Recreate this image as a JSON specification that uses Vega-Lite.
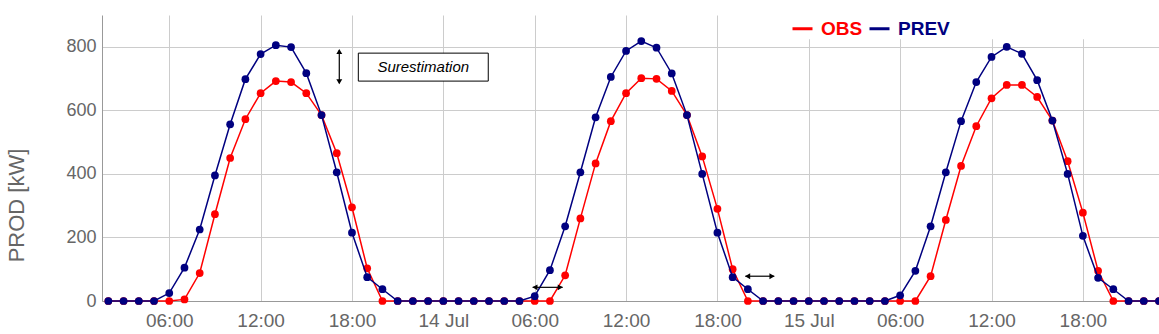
{
  "$schema": "https://vega.github.io/schema/vega-lite/v6.json",
  "autosize": {"type": "none"},
  "padding": {"left": 102, "top": 15, "right": 0, "bottom": 33},
  "width": 1057,
  "height": 286,
  "title": {"text": "Ennuls_6", "fontSize": 26, "fontWeight": "bold", "font": "Liberation Sans", "color": "#000000", "baseline": "alphabetic", "offset": 2, "dx": -47, "dy": 9, "anchor": "middle"},
  "data": {"values": [
    {"t": "2024-07-13T02:00:00", "OBS": 0, "PREV": 0},
    {"t": "2024-07-13T03:00:00", "OBS": 0, "PREV": 0},
    {"t": "2024-07-13T04:00:00", "OBS": 0, "PREV": 0},
    {"t": "2024-07-13T05:00:00", "OBS": 0, "PREV": 0},
    {"t": "2024-07-13T06:00:00", "OBS": 0, "PREV": 25},
    {"t": "2024-07-13T07:00:00", "OBS": 5, "PREV": 105},
    {"t": "2024-07-13T08:00:00", "OBS": 88, "PREV": 225},
    {"t": "2024-07-13T09:00:00", "OBS": 273, "PREV": 395},
    {"t": "2024-07-13T10:00:00", "OBS": 450, "PREV": 556},
    {"t": "2024-07-13T11:00:00", "OBS": 572, "PREV": 698},
    {"t": "2024-07-13T12:00:00", "OBS": 654, "PREV": 777},
    {"t": "2024-07-13T13:00:00", "OBS": 692, "PREV": 805},
    {"t": "2024-07-13T14:00:00", "OBS": 689, "PREV": 799},
    {"t": "2024-07-13T15:00:00", "OBS": 654, "PREV": 717},
    {"t": "2024-07-13T16:00:00", "OBS": 585, "PREV": 585},
    {"t": "2024-07-13T17:00:00", "OBS": 465, "PREV": 405},
    {"t": "2024-07-13T18:00:00", "OBS": 295, "PREV": 215},
    {"t": "2024-07-13T19:00:00", "OBS": 103, "PREV": 75},
    {"t": "2024-07-13T20:00:00", "OBS": 0, "PREV": 37},
    {"t": "2024-07-13T21:00:00", "OBS": 0, "PREV": 0},
    {"t": "2024-07-13T22:00:00", "OBS": 0, "PREV": 0},
    {"t": "2024-07-13T23:00:00", "OBS": 0, "PREV": 0},
    {"t": "2024-07-14T00:00:00", "OBS": 0, "PREV": 0},
    {"t": "2024-07-14T01:00:00", "OBS": 0, "PREV": 0},
    {"t": "2024-07-14T02:00:00", "OBS": 0, "PREV": 0},
    {"t": "2024-07-14T03:00:00", "OBS": 0, "PREV": 0},
    {"t": "2024-07-14T04:00:00", "OBS": 0, "PREV": 0},
    {"t": "2024-07-14T05:00:00", "OBS": 0, "PREV": 0},
    {"t": "2024-07-14T06:00:00", "OBS": 0, "PREV": 15},
    {"t": "2024-07-14T07:00:00", "OBS": 0, "PREV": 97},
    {"t": "2024-07-14T08:00:00", "OBS": 81, "PREV": 235},
    {"t": "2024-07-14T09:00:00", "OBS": 260, "PREV": 405},
    {"t": "2024-07-14T10:00:00", "OBS": 433, "PREV": 578},
    {"t": "2024-07-14T11:00:00", "OBS": 566, "PREV": 705},
    {"t": "2024-07-14T12:00:00", "OBS": 654, "PREV": 787},
    {"t": "2024-07-14T13:00:00", "OBS": 701, "PREV": 818},
    {"t": "2024-07-14T14:00:00", "OBS": 699, "PREV": 797},
    {"t": "2024-07-14T15:00:00", "OBS": 661, "PREV": 716},
    {"t": "2024-07-14T16:00:00", "OBS": 585, "PREV": 585},
    {"t": "2024-07-14T17:00:00", "OBS": 455, "PREV": 400},
    {"t": "2024-07-14T18:00:00", "OBS": 290, "PREV": 215},
    {"t": "2024-07-14T19:00:00", "OBS": 100, "PREV": 75},
    {"t": "2024-07-14T20:00:00", "OBS": 0, "PREV": 37},
    {"t": "2024-07-14T21:00:00", "OBS": 0, "PREV": 0},
    {"t": "2024-07-14T22:00:00", "OBS": 0, "PREV": 0},
    {"t": "2024-07-14T23:00:00", "OBS": 0, "PREV": 0},
    {"t": "2024-07-15T00:00:00", "OBS": 0, "PREV": 0},
    {"t": "2024-07-15T01:00:00", "OBS": 0, "PREV": 0},
    {"t": "2024-07-15T02:00:00", "OBS": 0, "PREV": 0},
    {"t": "2024-07-15T03:00:00", "OBS": 0, "PREV": 0},
    {"t": "2024-07-15T04:00:00", "OBS": 0, "PREV": 0},
    {"t": "2024-07-15T05:00:00", "OBS": 0, "PREV": 0},
    {"t": "2024-07-15T06:00:00", "OBS": 0, "PREV": 18},
    {"t": "2024-07-15T07:00:00", "OBS": 0, "PREV": 95},
    {"t": "2024-07-15T08:00:00", "OBS": 78, "PREV": 235},
    {"t": "2024-07-15T09:00:00", "OBS": 255, "PREV": 405},
    {"t": "2024-07-15T10:00:00", "OBS": 425, "PREV": 566},
    {"t": "2024-07-15T11:00:00", "OBS": 550, "PREV": 689},
    {"t": "2024-07-15T12:00:00", "OBS": 638, "PREV": 768},
    {"t": "2024-07-15T13:00:00", "OBS": 680, "PREV": 800},
    {"t": "2024-07-15T14:00:00", "OBS": 680, "PREV": 778},
    {"t": "2024-07-15T15:00:00", "OBS": 642, "PREV": 695},
    {"t": "2024-07-15T16:00:00", "OBS": 568, "PREV": 568},
    {"t": "2024-07-15T17:00:00", "OBS": 440, "PREV": 400},
    {"t": "2024-07-15T18:00:00", "OBS": 278, "PREV": 205},
    {"t": "2024-07-15T19:00:00", "OBS": 95, "PREV": 73},
    {"t": "2024-07-15T20:00:00", "OBS": 0, "PREV": 37},
    {"t": "2024-07-15T21:00:00", "OBS": 0, "PREV": 0},
    {"t": "2024-07-15T22:00:00", "OBS": 0, "PREV": 0},
    {"t": "2024-07-15T23:00:00", "OBS": 0, "PREV": 0}
  ]},
  "transform": [{"fold": ["OBS", "PREV"], "as": ["s", "v"]}],
  "encoding": {
    "x": {
      "field": "t", "type": "temporal",
      "scale": {"domain": [{"year": 2024, "month": 7, "date": 13, "hours": 1, "minutes": 35}, {"year": 2024, "month": 7, "date": 15, "hours": 23, "minutes": 0}]},
      "axis": {
        "title": null,
        "tickCount": 12,
        "labelExpr": "hours(datum.value) == 0 ? timeFormat(datum.value, '%d %b') : timeFormat(datum.value, '%H:%M')",
        "grid": true, "gridColor": "#cccccc", "gridWidth": 1,
        "ticks": false, "labelPadding": 10,
        "labelFont": "Liberation Sans", "labelFontSize": 19, "labelColor": "#666666",
        "labelFlush": false, "labelOverlap": false,
        "domainColor": "#999999", "domainWidth": 1
      }
    },
    "y": {
      "field": "v", "type": "quantitative",
      "scale": {"domain": [0, 900], "nice": false},
      "axis": {
        "title": "PROD [kW]",
        "values": [0, 200, 400, 600, 800],
        "grid": true, "gridColor": "#cccccc", "gridWidth": 1,
        "ticks": false, "labelPadding": 6,
        "labelFont": "Liberation Sans", "labelFontSize": 18, "labelColor": "#666666",
        "domainColor": "#999999", "domainWidth": 1,
        "titleFont": "Liberation Sans", "titleFontSize": 22, "titleFontWeight": "normal", "titleColor": "#666666",
        "titleX": -86, "titleY": 190, "titleAlign": "center", "titleBaseline": "middle", "titleAngle": -90
      }
    }
  },
  "layer": [
    {
      "transform": [{"filter": "datum.s == 'OBS' && datum.PREV == 25"}],
      "mark": {"type": "rect", "fill": "#ffffff", "strokeWidth": 0},
      "encoding": {
        "x": {"datum": {"year": 2024, "month": 7, "date": 14, "hours": 22, "minutes": 37}, "type": "temporal"},
        "x2": {"datum": {"year": 2024, "month": 7, "date": 15, "hours": 23, "minutes": 0}},
        "y": {"datum": 824, "type": "quantitative"},
        "y2": {"datum": 900}
      }
    },
    {
      "transform": [{"filter": "datum.s == 'OBS'"}],
      "mark": {"type": "line", "strokeWidth": 1.5},
      "encoding": {
        "color": {
          "field": "s", "type": "nominal",
          "scale": {"domain": ["OBS", "PREV"], "range": ["#ff0000", "#000080"]},
          "legend": {
            "title": null, "orient": "none", "direction": "horizontal",
            "legendX": 689, "legendY": 2,
            "symbolType": "stroke", "symbolSize": 400, "symbolStrokeWidth": 3,
            "labelFont": "Liberation Sans", "labelFontSize": 19, "labelFontWeight": "bold",
            "labelOffset": 7, "columnPadding": 0,
            "encode": {"labels": {"update": {"fill": {"signal": "datum.value === 'OBS' ? '#ff0000' : '#000080'"}}}}
          }
        }
      }
    },
    {
      "transform": [{"filter": "datum.s == 'OBS'"}],
      "mark": {"type": "point", "filled": true, "size": 60, "opacity": 1},
      "encoding": {"color": {"field": "s", "type": "nominal"}}
    },
    {
      "transform": [{"filter": "datum.s == 'PREV'"}],
      "mark": {"type": "line", "strokeWidth": 1.5},
      "encoding": {"color": {"field": "s", "type": "nominal"}}
    },
    {
      "transform": [{"filter": "datum.s == 'PREV'"}],
      "mark": {"type": "point", "filled": true, "size": 60, "opacity": 1},
      "encoding": {"color": {"field": "s", "type": "nominal"}}
    },
    {
      "transform": [{"filter": "datum.s == 'OBS' && datum.PREV == 25"}],
      "mark": {"type": "rect", "fill": "#ffffff", "stroke": "#000000", "strokeWidth": 1},
      "encoding": {
        "x": {"datum": {"year": 2024, "month": 7, "date": 13, "hours": 18, "minutes": 25}, "type": "temporal"},
        "x2": {"datum": {"year": 2024, "month": 7, "date": 14, "hours": 2, "minutes": 57}},
        "y": {"datum": 780, "type": "quantitative"},
        "y2": {"datum": 692}
      }
    },
    {
      "transform": [{"filter": "datum.s == 'OBS' && datum.PREV == 25"}],
      "mark": {"type": "text", "text": "Surestimation", "font": "Liberation Sans", "fontSize": 15, "fontStyle": "italic", "color": "#000000", "align": "center", "baseline": "middle"},
      "encoding": {
        "x": {"datum": {"year": 2024, "month": 7, "date": 13, "hours": 22, "minutes": 41}, "type": "temporal"},
        "y": {"datum": 736, "type": "quantitative"}
      }
    },
    {
      "transform": [{"filter": "datum.s == 'OBS' && datum.PREV == 25"}],
      "mark": {"type": "rule", "color": "#000000", "strokeWidth": 1.2},
      "encoding": {
        "x": {"datum": {"year": 2024, "month": 7, "date": 13, "hours": 17, "minutes": 10}, "type": "temporal"},
        "y": {"datum": 790, "type": "quantitative"},
        "y2": {"datum": 685}
      }
    },
    {
      "transform": [{"filter": "datum.s == 'OBS' && datum.PREV == 25"}],
      "mark": {"type": "point", "shape": "triangle-up", "filled": true, "color": "#000000", "size": 35, "opacity": 1},
      "encoding": {
        "x": {"datum": {"year": 2024, "month": 7, "date": 13, "hours": 17, "minutes": 10}, "type": "temporal"},
        "y": {"datum": 785, "type": "quantitative"}
      }
    },
    {
      "transform": [{"filter": "datum.s == 'OBS' && datum.PREV == 25"}],
      "mark": {"type": "point", "shape": "triangle-down", "filled": true, "color": "#000000", "size": 35, "opacity": 1},
      "encoding": {
        "x": {"datum": {"year": 2024, "month": 7, "date": 13, "hours": 17, "minutes": 10}, "type": "temporal"},
        "y": {"datum": 690, "type": "quantitative"}
      }
    },
    {
      "transform": [{"filter": "datum.s == 'OBS' && datum.PREV == 25"}],
      "mark": {"type": "rule", "color": "#000000", "strokeWidth": 1.2},
      "encoding": {
        "x": {"datum": {"year": 2024, "month": 7, "date": 14, "hours": 5, "minutes": 52}, "type": "temporal"},
        "x2": {"datum": {"year": 2024, "month": 7, "date": 14, "hours": 7, "minutes": 50}},
        "y": {"datum": 43, "type": "quantitative"}
      }
    },
    {
      "transform": [{"filter": "datum.s == 'OBS' && datum.PREV == 25"}],
      "mark": {"type": "point", "shape": "triangle-left", "filled": true, "color": "#000000", "size": 35, "opacity": 1},
      "encoding": {
        "x": {"datum": {"year": 2024, "month": 7, "date": 14, "hours": 6, "minutes": 1}, "type": "temporal"},
        "y": {"datum": 43, "type": "quantitative"}
      }
    },
    {
      "transform": [{"filter": "datum.s == 'OBS' && datum.PREV == 25"}],
      "mark": {"type": "point", "shape": "triangle-right", "filled": true, "color": "#000000", "size": 35, "opacity": 1},
      "encoding": {
        "x": {"datum": {"year": 2024, "month": 7, "date": 14, "hours": 7, "minutes": 41}, "type": "temporal"},
        "y": {"datum": 43, "type": "quantitative"}
      }
    },
    {
      "transform": [{"filter": "datum.s == 'OBS' && datum.PREV == 25"}],
      "mark": {"type": "rule", "color": "#000000", "strokeWidth": 1.2},
      "encoding": {
        "x": {"datum": {"year": 2024, "month": 7, "date": 14, "hours": 19, "minutes": 50}, "type": "temporal"},
        "x2": {"datum": {"year": 2024, "month": 7, "date": 14, "hours": 21, "minutes": 44}},
        "y": {"datum": 78, "type": "quantitative"}
      }
    },
    {
      "transform": [{"filter": "datum.s == 'OBS' && datum.PREV == 25"}],
      "mark": {"type": "point", "shape": "triangle-left", "filled": true, "color": "#000000", "size": 35, "opacity": 1},
      "encoding": {
        "x": {"datum": {"year": 2024, "month": 7, "date": 14, "hours": 19, "minutes": 59}, "type": "temporal"},
        "y": {"datum": 78, "type": "quantitative"}
      }
    },
    {
      "transform": [{"filter": "datum.s == 'OBS' && datum.PREV == 25"}],
      "mark": {"type": "point", "shape": "triangle-right", "filled": true, "color": "#000000", "size": 35, "opacity": 1},
      "encoding": {
        "x": {"datum": {"year": 2024, "month": 7, "date": 14, "hours": 21, "minutes": 35}, "type": "temporal"},
        "y": {"datum": 78, "type": "quantitative"}
      }
    }
  ],
  "config": {"view": {"stroke": null}, "background": "#ffffff"}
}
